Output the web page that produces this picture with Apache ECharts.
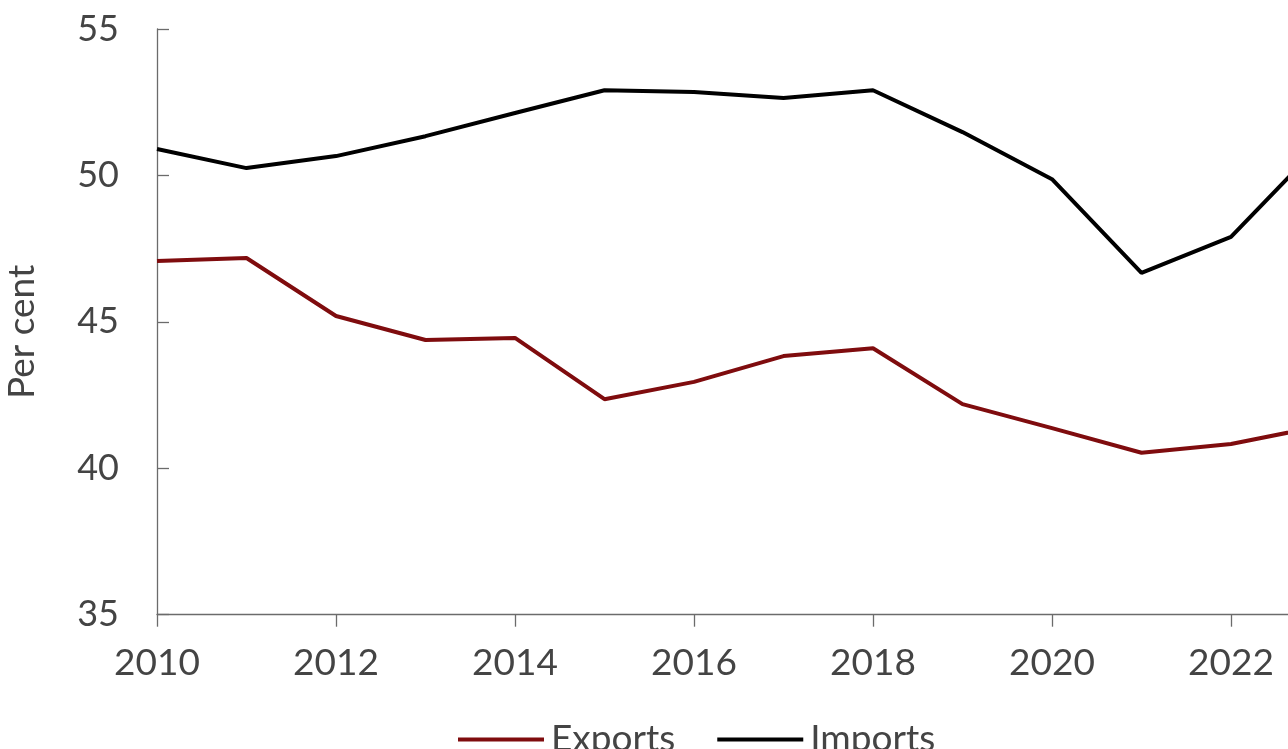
<!DOCTYPE html>
<html>
<head>
<meta charset="utf-8">
<script src="https://cdn.jsdelivr.net/npm/echarts@6/dist/echarts.min.js"></script>
<style>html,body{margin:0;padding:0;background:#fff;}#c{width:1288px;height:749px;}</style>
</head>
<body>
<div id="c"></div>
<script>
const years = [2010, 2011, 2012, 2013, 2014, 2015, 2016, 2017, 2018, 2019, 2020, 2021, 2022, 2023];
const exportsPct = [47.08, 47.18, 45.2, 44.38, 44.45, 42.36, 42.95, 43.83, 44.1, 42.19, 41.37, 40.53, 40.83, 41.44];
const importsPct = [50.9, 50.25, 50.66, 51.34, 52.13, 52.91, 52.85, 52.64, 52.91, 51.48, 49.87, 46.67, 47.9, 51.07];
const yTicks = [35, 40, 45, 50, 55];

const font = 'Lato, "Noto Sans", sans-serif';
const chart = echarts.init(document.getElementById('c'), null, {renderer: 'canvas'});
chart.setOption({
  animation: false,
  backgroundColor: '#ffffff',
  grid: {left: 157, top: 29, height: 585.7, width: 1163.5, containLabel: false, outerBoundsMode: 'none'},
  legend: {
    left: 453, top: 716,
    icon: 'rect', itemWidth: 86, itemHeight: 4, itemGap: 42,
    textStyle: {fontFamily: font, fontSize: 37, color: '#444444', padding: [0, 0, 0, 2]},
    data: ['Exports', 'Imports']
  },
  xAxis: {
    type: 'value', min: 2010, max: 2023, interval: 2,
    axisLine: {lineStyle: {color: '#6b6b6b', width: 1.3}},
    axisTick: {show: true, inside: false, length: 12, lineStyle: {color: '#6b6b6b', width: 1.3}},
    axisLabel: {fontFamily: font, fontSize: 37, color: '#444444', margin: 30, showMaxLabel: false,
      formatter: v => String(v)},
    splitLine: {show: false}
  },
  yAxis: {
    type: 'value', min: yTicks[0], max: yTicks[yTicks.length - 1], interval: 5,
    name: 'Per cent', nameLocation: 'middle', nameGap: 116, nameRotate: 90,
    nameTextStyle: {fontFamily: font, fontSize: 37, color: '#444444', padding: [0, 20, 0, 0]},
    axisLine: {show: true, lineStyle: {color: '#6b6b6b', width: 1.3}},
    axisTick: {show: true, inside: true, length: 12, lineStyle: {color: '#6b6b6b', width: 1.3}},
    axisLabel: {fontFamily: font, fontSize: 36, color: '#444444', margin: 38},
    splitLine: {show: false}
  },
  series: [
    {name: 'Exports', type: 'line', symbol: 'none', color: '#7f0c0e',
      lineStyle: {width: 4, color: '#7f0c0e'},
      data: years.map((y, i) => [y, exportsPct[i]])},
    {name: 'Imports', type: 'line', symbol: 'none', color: '#000000',
      lineStyle: {width: 4, color: '#000000'},
      data: years.map((y, i) => [y, importsPct[i]])}
  ]
});
</script>
</body>
</html>
